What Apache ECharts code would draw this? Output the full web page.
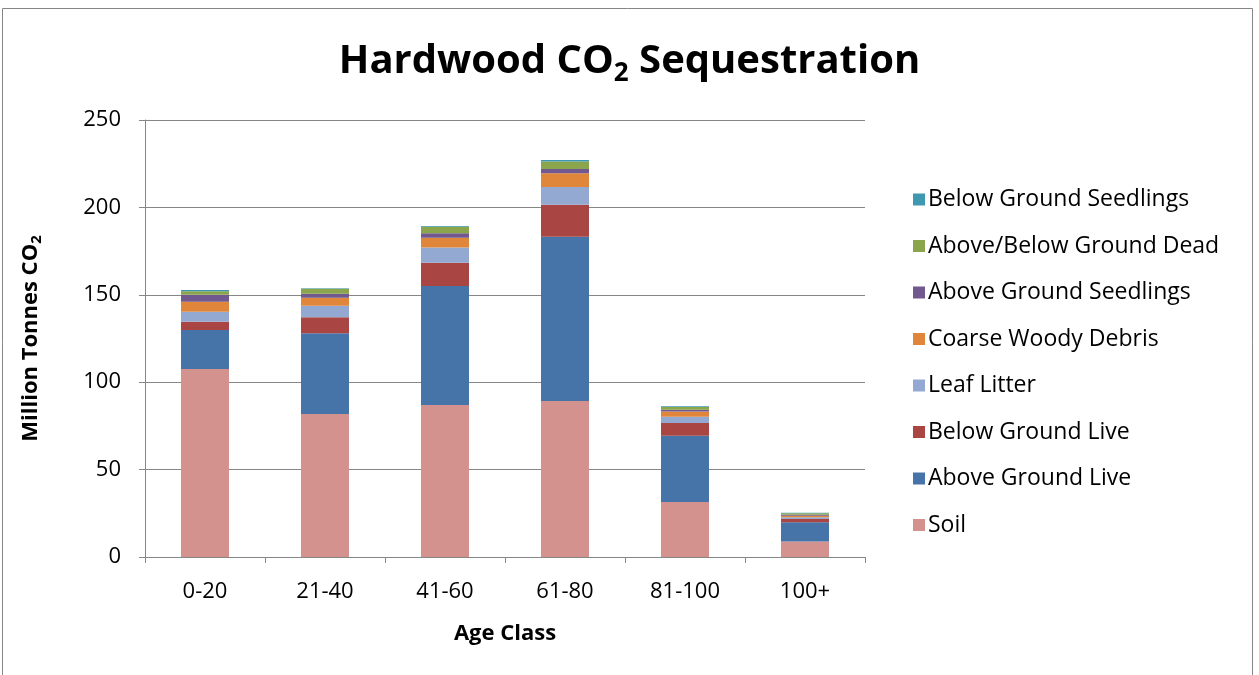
<!DOCTYPE html>
<html><head><meta charset="utf-8">
<script src="https://cdn.jsdelivr.net/npm/echarts@6/dist/echarts.min.js"></script>
<style>html,body{margin:0;padding:0;background:#fff}#c{width:1259px;height:675px}</style>
</head><body><div id="c"></div>
<script>
const categories = ['0-20','21-40','41-60','61-80','81-100','100+'];
const soil = [107.6, 81.8, 87.0, 89.2, 31.5, 8.8];
const aboveGroundLive = [22.3, 46.2, 68.1, 94.0, 37.8, 11.1];
const belowGroundLive = [4.7, 9.2, 13.3, 18.3, 7.4, 1.9];
const leafLitter = [5.7, 6.5, 8.6, 10.1, 3.6, 1.0];
const coarseWoodyDebris = [5.7, 4.6, 5.7, 8.0, 2.9, 0.8];
const aboveGroundSeedlings = [4.0, 2.3, 2.5, 2.3, 1.1, 0.5];
const aboveBelowGroundDead = [2.0, 2.9, 3.8, 4.4, 1.5, 1.0];
const belowGroundSeedlings = [0.7, 0.3, 0.3, 0.8, 0.4, 0.2];
const yTicks = [0, 50, 100, 150, 200, 250];

const seriesDefs = [
  ['Soil', soil, '#D4928F'],
  ['Above Ground Live', aboveGroundLive, '#4673A8'],
  ['Below Ground Live', belowGroundLive, '#A94643'],
  ['Leaf Litter', leafLitter, '#94A9D1'],
  ['Coarse Woody Debris', coarseWoodyDebris, '#E0863B'],
  ['Above Ground Seedlings', aboveGroundSeedlings, '#71588F'],
  ['Above/Below Ground Dead', aboveBelowGroundDead, '#8AA54C'],
  ['Below Ground Seedlings', belowGroundSeedlings, '#3E98AF']
];
const FONT = 'Open Sans';
const chart = echarts.init(document.getElementById('c'));
chart.setOption({
  animation: false,
  textStyle: {fontFamily: FONT},
  graphic: [{type:'rect', shape:{x:2.5,y:8.5,width:1250,height:700}, style:{fill:'none', stroke:'#868686', lineWidth:1}, silent:true}],
  title: {
    text: '{a|Hardwood CO}{s|2}{a| Sequestration}',
    left: 'center', top: 30,
    textStyle: {
      rich: {
        a: {fontFamily: FONT, fontWeight: 'bold', fontSize: 40, color: '#000', lineHeight: 54},
        s: {fontFamily: FONT, fontWeight: 'bold', fontSize: 26, color: '#000', lineHeight: 54, padding:[24,0,0,0]}
      }
    }
  },
  legend: {
    orient: 'vertical', left: 908, top: 183,
    itemWidth: 12, itemHeight: 12, itemGap: 23.5,
    icon: 'rect',
    data: seriesDefs.map(d => d[0]).reverse(),
    textStyle: {fontFamily: FONT, fontSize: 23, color: '#000', padding:[0,0,0,-2]}
  },
  grid: {left: 145, right: 394, top: 120, bottom: 118},
  xAxis: {
    type: 'category', data: categories,
    name: 'Age Class', nameLocation: 'middle', nameGap: 66,
    nameTextStyle: {fontFamily: FONT, fontWeight: 'bold', fontSize: 22, color: '#000'},
    axisLine: {lineStyle: {color: '#868686', width: 1}},
    axisTick: {show: true, alignWithLabel: false, length: 6, lineStyle: {color: '#868686'}},
    axisLabel: {fontFamily: FONT, fontSize: 22, color: '#000', margin: 24}
  },
  yAxis: {
    type: 'value', min: 0, max: 250, interval: 50,
    name: '{a|Million Tonnes CO}{s|2}', nameLocation: 'middle', nameGap: 100, nameRotate: 90,
    nameTextStyle: {
      rich: {
        a: {fontFamily: FONT, fontWeight: 'bold', fontSize: 22, color: '#000', lineHeight: 28},
        s: {fontFamily: FONT, fontWeight: 'bold', fontSize: 15, color: '#000', lineHeight: 28, padding:[12,0,0,0]}
      }
    },
    axisLine: {show: true, lineStyle: {color: '#868686', width: 1}},
    axisTick: {show: true, length: 6, lineStyle: {color: '#868686'}},
    axisLabel: {fontFamily: FONT, fontSize: 22, color: '#000', margin: 24,
      formatter: v => yTicks.includes(v) ? String(v) : ''},
    splitLine: {lineStyle: {color: '#868686', width: 1}}
  },
  series: seriesDefs.map(d => ({
    name: d[0], type: 'bar', stack: 'total', data: d[1], barWidth: 48,
    itemStyle: {color: d[2]}
  }))
});
</script></body></html>
